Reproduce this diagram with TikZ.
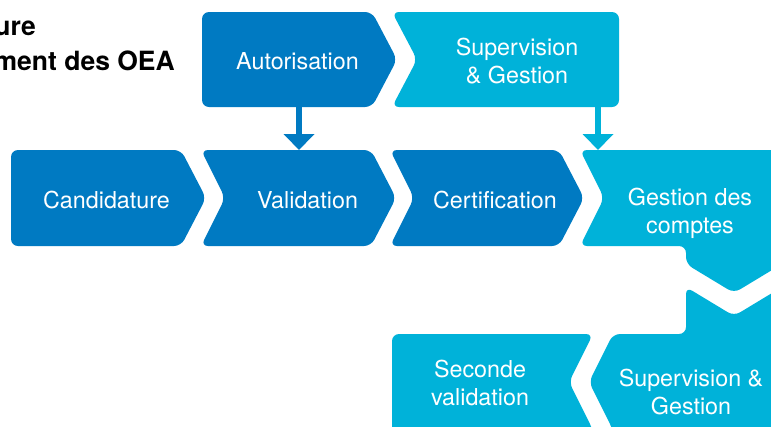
\documentclass[tikz,border=0pt]{standalone}
\usepackage{fontspec}
\setmainfont{TeX Gyre Heros}
\usetikzlibrary{arrows.meta}
\definecolor{cdark}{RGB}{0,122,194}
\definecolor{clight}{RGB}{0,178,217}
\tikzset{
  darkbox/.style={fill=cdark, rounded corners=7pt},
  lightbox/.style={fill=clight, rounded corners=7pt},
  lbl/.style={text=white, font=\fontsize{23.3}{28}\selectfont, align=center, inner sep=0pt},
  ttl/.style={text=black, font=\fontsize{26.5}{35}\selectfont\bfseries, inner sep=0pt, anchor=base east},
  darrow/.style={draw=cdark, line width=6pt, -{Triangle[width=30pt,length=16pt]}},
  larrow/.style={draw=clight, line width=6pt, -{Triangle[width=30pt,length=16pt]}}
}
\begin{document}
\begin{tikzpicture}[x=1pt,y=-1pt]
\useasboundingbox (0,0) rectangle (771,426);
\clip (0,0) rectangle (771,426);
% title (cut off at the left edge, as in the reference)
\node[ttl] (t1) at (36,35) {ure};
\node[ttl] (t2) at (175,70) {ment des OEA};
% top row
\path[darkbox] (202,12) -- (372,12) -- (397,59.5) -- (372,107) -- (202,107) -- cycle;
\path[lightbox] (392,12) -- (619,12) -- (619,107) -- (392,107) -- (417,59.5) -- cycle;
% main row
\path[darkbox] (11,150) -- (181,150) -- (206,198) -- (181,246) -- (11,246) -- cycle;
\path[darkbox] (201,150) -- (371,150) -- (396,198) -- (371,246) -- (201,246) -- (225,198) -- cycle;
\path[darkbox] (390,150) -- (559,150) -- (584,198) -- (559,246) -- (390,246) -- (414,198) -- cycle;
\path[lightbox] (580,150) -- (800,150) -- (800,240) -- (782,264) -- (734,293) -- (686,264) -- (686,246) -- (580,246) -- (604,198) -- cycle;
% bottom row
\path[lightbox] (686,287) -- (734,316) -- (782,287) -- (800,300) -- (800,450) -- (613,450) -- (613,430) -- (589,382) -- (613,334) -- (686,334) -- cycle;
\path[lightbox] (392,334) -- (593,334) -- (569,382) -- (593,430) -- (593,450) -- (392,450) -- cycle;
% labels
\node[lbl, anchor=base] (autorisation) at (297.5,69) {Autorisation};
\node[lbl] (supervisionA) at (517,61) {Supervision\\\& Gestion};
\node[lbl, anchor=base] (candidature) at (106.5,208) {Candidature};
\node[lbl, anchor=base] (validation) at (307.5,208) {Validation};
\node[lbl, anchor=base] (certification) at (495,208) {Certification};
\node[lbl] (gestion) at (690,213) {Gestion des\\comptes};
\node[lbl] (supervisionB) at (691,392) {Supervision \&\\Gestion};
\node[lbl] (seconde) at (480,383) {Seconde\\validation};
% connectors
\coordinate (autOut) at (299,107);
\coordinate (valIn) at (299,150);
\coordinate (supOut) at (598,107);
\coordinate (gesIn) at (598,150);
\draw[darrow] (autOut) -- (valIn);
\draw[larrow] (supOut) -- (gesIn);
\end{tikzpicture}
\end{document}
